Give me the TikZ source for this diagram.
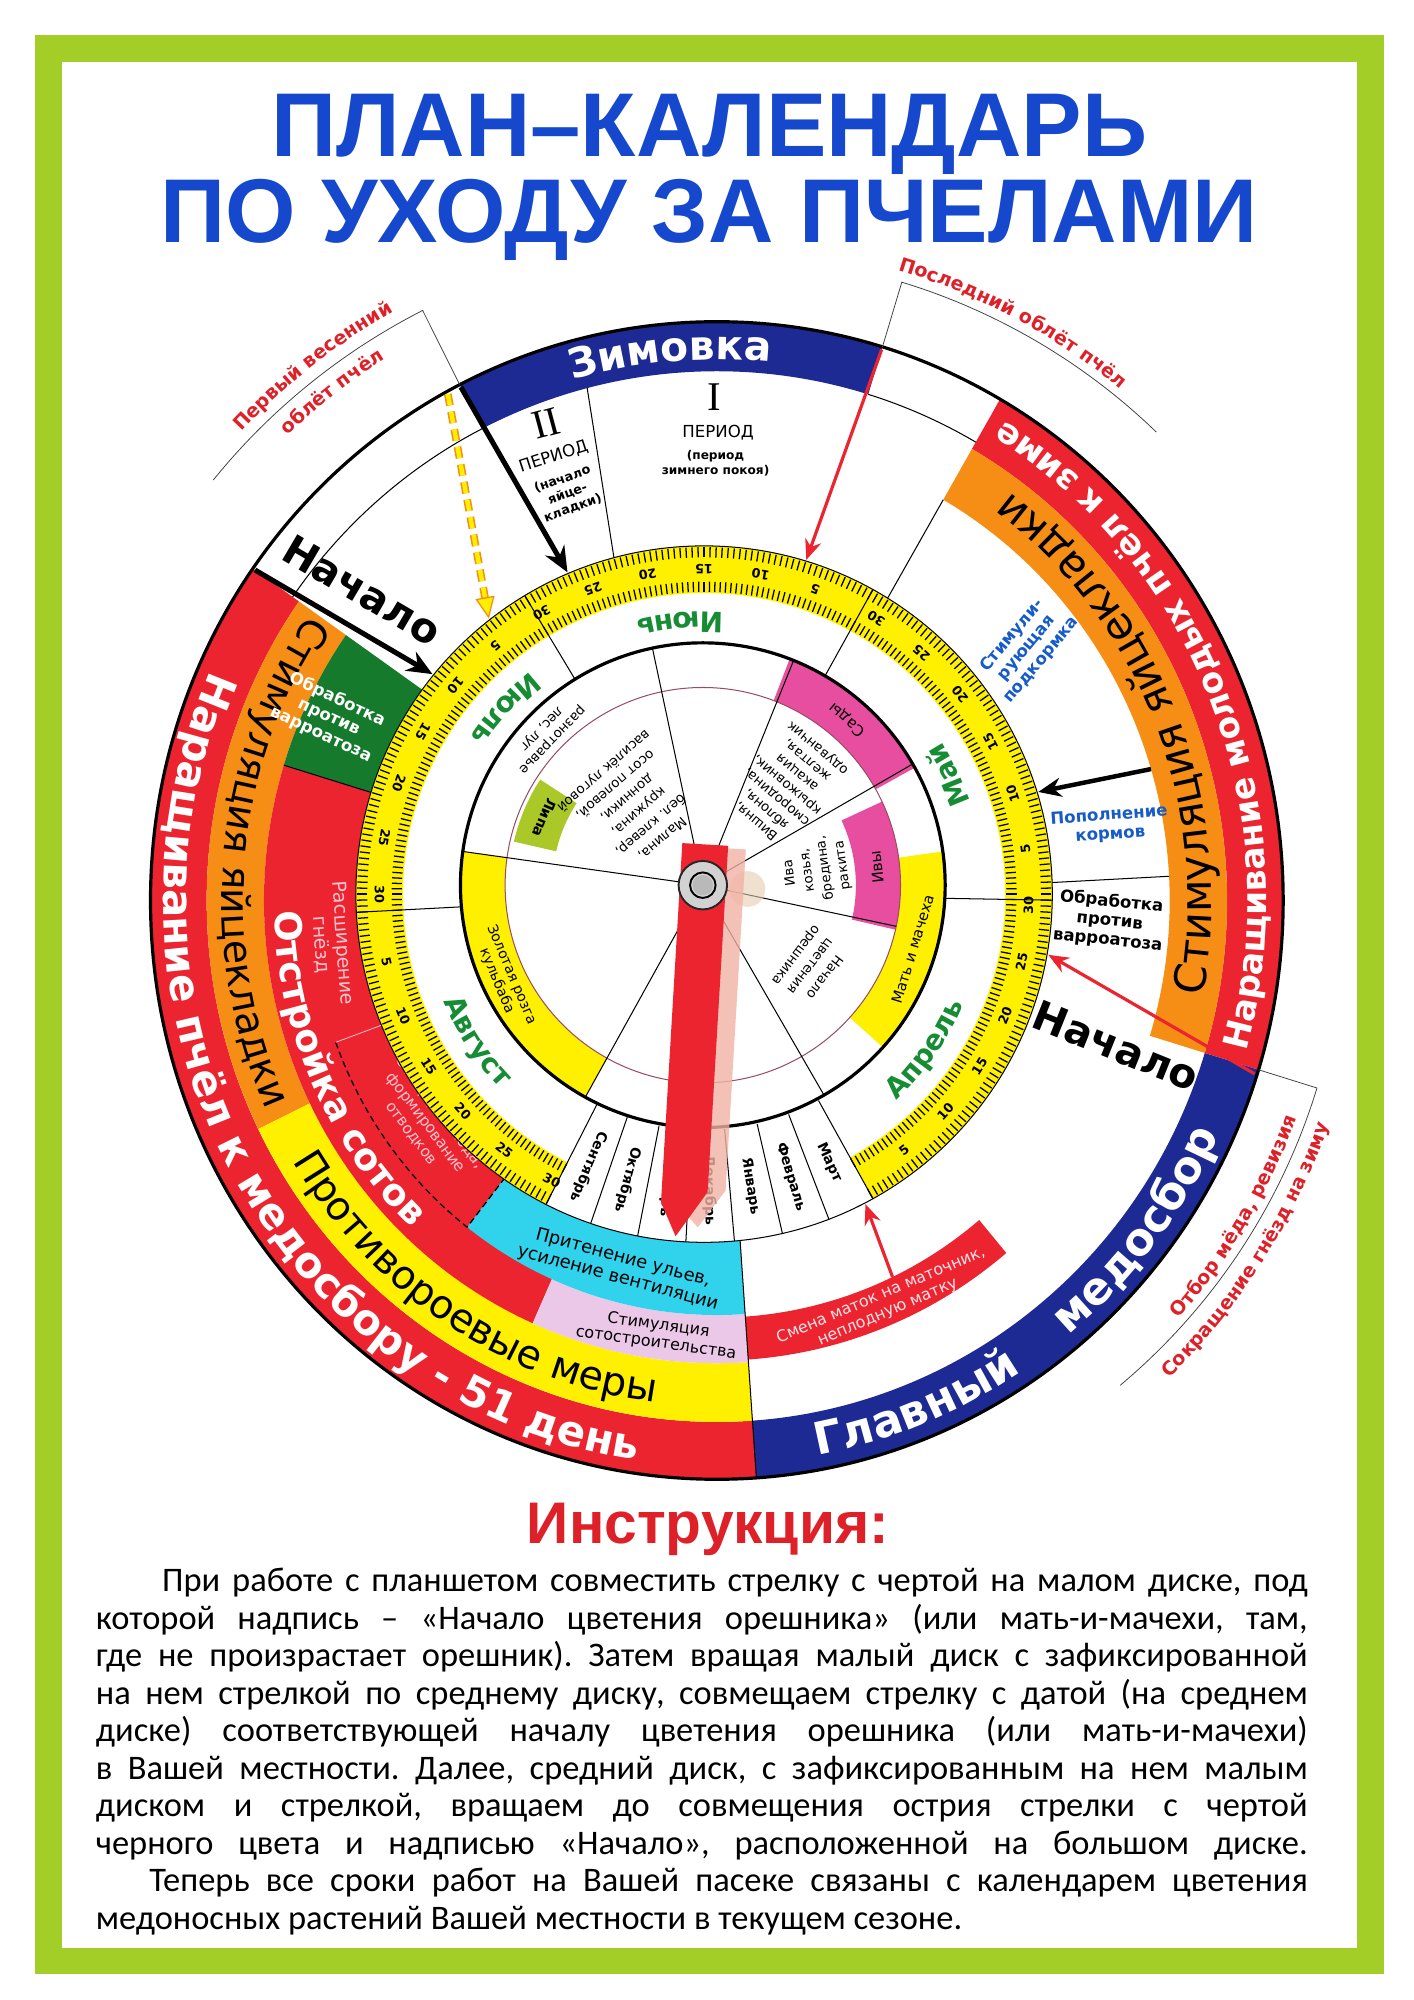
\documentclass[tikz,border=0pt]{standalone}
\usepackage{fontspec}
\setmainfont{DejaVu Sans}
\newfontfamily\headfont{Liberation Sans}
\newfontfamily\notefont{Carlito}
\newfontfamily\romanfont{Liberation Serif}
\usetikzlibrary{arrows.meta,calc,decorations.text}

\definecolor{framegreen}{RGB}{163,206,39}
\definecolor{titleblue}{RGB}{22,72,205}
\definecolor{discblue}{RGB}{30,42,148}
\definecolor{discred}{RGB}{236,36,48}
\definecolor{discorange}{RGB}{246,142,22}
\definecolor{discyellow}{RGB}{255,240,0}
\definecolor{boxgreen}{RGB}{22,122,44}
\definecolor{boxcyan}{RGB}{48,210,236}
\definecolor{boxpink}{RGB}{236,200,232}
\definecolor{plantpink}{RGB}{232,78,160}
\definecolor{plantlime}{RGB}{170,200,40}
\definecolor{monthgreen}{RGB}{22,140,52}
\definecolor{noteblue}{RGB}{22,92,200}
\definecolor{notered}{RGB}{222,32,40}
\definecolor{lightpink}{RGB}{255,196,206}

\newcommand{\fsz}[2]{\fontsize{#1}{#2}\selectfont}
\newcommand{\sector}[5]{\fill[#1] (#2:#5) arc[start angle=#2,end angle=#3,radius=#5] -- (#3:#4) arc[start angle=#3,end angle=#2,radius=#4] -- cycle;}
\newcommand{\arctext}[7]{\path[#1,decorate,decoration={text along path,text align=center,text color=#5,text={|#6|#7}}] (#3:#2) arc[start angle=#3,end angle=#4,radius=#2];}
\frenchspacing

\begin{document}
\begin{tikzpicture}[>=Stealth, x=1pt, y=1pt,
    big/.style={shift={(562,862)}, yscale=1.022},
    mid/.style={shift={(552,867)}},
    small/.style={shift={(551,874)}},
    sep/.style={line width=0.8pt},
    leader/.style={line width=0.6pt, black!75},
    instr/.style={anchor=base west, inner sep=0pt, font=\notefont\fsz{27}{27}},
    daynum/.style={inner sep=0pt, font=\bfseries\fsz{10}{10}},
    plant/.style={inner sep=0pt, align=center, font=\fsz{10.5}{14}},
    boxtext/.style={inner sep=0pt, align=center, font=\bfseries\fsz{13}{15}},
    bigarrow/.style={line width=4pt, -{Stealth[length=20pt,width=17pt]}},
    redarrow/.style={discred, line width=2.5pt, -{Stealth[length=16pt,width=13pt]}}]
    \useasboundingbox (0,0) rectangle (1108,1568);
    \fill[white] (0,0) rectangle (1108,1568);
    \draw[framegreen, line width=21pt] (38,30.5) rectangle (1074.5,1530);

    \node[anchor=base, inner sep=0pt, text=titleblue, font=\headfont\bfseries\fsz{71}{71}] (title1) at (556,1445) {ПЛАН–КАЛЕНДАРЬ};
    \node[anchor=base, inner sep=0pt, text=titleblue, font=\headfont\bfseries\fsz{71}{71}] (title2) at (556,1378) {ПО УХОДУ ЗА ПЧЕЛАМИ};

    \coordinate (cb) at (562,862);
    \coordinate (cm) at (552,867);
    \coordinate (cs) at (551,874);

    \fill[white, big] (0,0) circle (444);
    \sector{discblue,big}{73}{117}{406}{444}
    \sector{discred,big}{145}{274}{400}{444}
    \sector{discblue,big}{274}{343}{400}{444}
    \sector{discred,big}{-17}{60}{400}{444}
    \sector{discorange,big}{-17}{60}{355}{400}
    \sector{discorange,big}{145}{206}{355}{400}
    \sector{discyellow,big}{206}{274}{355}{400}
    \sector{boxgreen,big}{145}{163}{215}{355}
    \sector{discred,big}{163}{246}{215}{355}
    \sector{boxpink,big}{246}{274}{318}{355}
    \sector{boxcyan,big}{232}{274}{215}{318}
    \sector{discred,big}{-86}{-50}{320}{353}

    \draw[sep, big] (117:406) arc[start angle=117, end angle=145, radius=406];
    \draw[sep, big] (60:406) arc[start angle=60, end angle=73, radius=406];
    \draw[sep, big] (163:215) -- (163:355);
    \draw[sep, big] (274:215) -- (274:444);
    \draw[sep, big] (60:240) -- (60:355);
    \draw[sep, big] (3:240) -- (3:355);
    \draw[sep] ([big]104.5:406) -- ([mid]105:273);
    \draw[line width=1pt, dash pattern=on 5pt off 3pt, big] (200:318) arc[start angle=200, end angle=232, radius=318] -- (232:240);
    \draw[line width=0.6pt, lightpink, big] (200:240) -- (200:318);
    \draw[line width=2.5pt, big] (0,0) circle (444);

    \arctext{big}{415}{117}{73}{white}{\bfseries\fsz{32}{32}}{Зимовка}
    \arctext{big}{434}{140}{278}{white}{\bfseries\fsz{33}{33}}{Наращивание пчёл к медосбору - 51 день}
    \arctext{big}{431}{-20}{63}{white}{\bfseries\fsz{27}{27}}{Наращивание молодых пчёл к зиме}
    \arctext{big}{433}{-86}{-50}{white}{\bfseries\fsz{35}{35}}{Главный}
    \arctext{big}{433}{-56}{-19}{white}{\bfseries\fsz{35}{35}}{медосбор}
    \arctext{big}{388}{-16}{59}{black}{\fsz{34}{34}}{Стимуляция яйцекладки}
    \arctext{big}{388}{140}{210}{black}{\fsz{31}{31}}{Стимуляция яйцекладки}
    \arctext{big}{388}{202}{272}{black}{\fsz{31}{31}}{Противороевые меры}
    \arctext{big}{347}{166}{242}{white}{\bfseries\fsz{29}{29}}{Отстройка сотов}

    \node[inner sep=0pt, align=center, font=\fsz{14}{16}, rotate=-15] (shade) at ([big]255:292) {Притенение ульев,\\усиление вентиляции};
    \node[inner sep=0pt, align=center, font=\fsz{12.5}{14}, rotate=-8] (combs) at ([big]262:336) {Стимуляция\\сотостроительства};
    \node[inner sep=0pt, align=center, text=lightpink!50!white, font=\fsz{12.5}{14}, rotate=23] (queens) at ([big]-67:336) {Смена маток на маточник,\\неплодную матку};
    \node[boxtext, text=white, rotate=-25] (varroaL) at (258,1006) {Обработка\\против\\варроатоза};
    \node[inner sep=0pt, align=center, text=lightpink, font=\fsz{15}{17}, rotate=-86] (nests) at (260,828) {Расширение\\гнёзд};
    \node[inner sep=0pt, align=center, text=lightpink, font=\fsz{12}{14}, rotate=-53] (brood) at (334,688) {Отбор расплода,\\формирование\\отводков};
    \node[boxtext, text=noteblue, rotate=50] (feedA) at (805,1060) {Стимули-\\рующая\\подкормка};
    \node[boxtext, text=noteblue, rotate=4] (feedB) at (870,921) {Пополнение\\кормов};
    \node[boxtext, rotate=-6] (varroaR) at (870,846) {Обработка\\против\\варроатоза};

    \node[inner sep=0pt, font=\romanfont\fsz{32}{32}, rotate=15] (per2num) at (428,1236) {II};
    \node[inner sep=0pt, font=\fsz{13}{13}, rotate=18] (per2word) at (434,1210) {ПЕРИОД};
    \node[inner sep=0pt, align=center, font=\bfseries\fsz{10}{12}, rotate=20] (per2note) at (445,1181) {(начало\\яйце-\\кладки)};
    \node[inner sep=0pt, font=\romanfont\fsz{32}{32}] (per1num) at (560,1257) {I};
    \node[inner sep=0pt, font=\fsz{13}{13}] (per1word) at (563,1229) {ПЕРИОД};
    \node[inner sep=0pt, align=center, font=\bfseries\fsz{9.5}{12}] (per1note) at (561,1205) {(период\\зимнего покоя)};

    \draw[leader] ([big]117:444) -- ([big]117:508) arc[start angle=117, end angle=141, radius=508];
    \arctext{big}{518}{160}{95}{notered}{\bfseries\fsz{15}{15}}{Первый весенний}
    \arctext{big}{490}{160}{95}{notered}{\bfseries\fsz{15}{15}}{облёт пчёл}
    \draw[leader] ([big]73:444) -- ([big]73:496) arc[start angle=73, end angle=46, radius=496];
    \arctext{big}{504}{95}{30}{notered}{\bfseries\fsz{15}{15}}{Последний облёт пчёл}
    \draw[leader] ([big]-17:444) -- ([big]-17:492) arc[start angle=-17, end angle=-50, radius=492];
    \arctext{big}{484}{-65}{3}{notered}{\bfseries\fsz{15}{15}}{Отбор мёда, ревизия}
    \arctext{big}{510}{-66}{0}{notered}{\bfseries\fsz{15}{15}}{Сокращение гнёзд на зиму}

    \fill[white, mid] (0,0) circle (273);
    \sector{discyellow,mid}{-61}{243}{236}{273}
    \foreach \a in {-61,...,243} \draw[line width=1pt, mid] (\a:264) -- (\a:272) (\a:237) -- (\a:245);
    \foreach \s [count=\i] in {-61,-1,61,121,183} {
        \foreach \d [count=\j] in {5,10,...,30} {
            \node[daynum, rotate=\s+2*\d-1+90] (day\i\j) at ([mid]\s+2*\d-1:254.5) {\d};
        }
    }
    \foreach \a in {-1,61,121,183} \draw[sep, mid] (\a:185) -- (\a:273);
    \foreach \a in {243,251,...,299} \draw[sep, mid] (\a:185) -- (\a:273);
    \foreach \m [count=\k from 0] in {Сентябрь,Октябрь,Ноябрь,Декабрь,Январь,Февраль,Март}
        \node[inner sep=0pt, font=\bfseries\fsz{11}{11}, rotate=247+8*\k] (mon\k) at ([mid]247+8*\k:232) {\m};
    \draw[sep, mid] (0,0) circle (273);
    \arctext{mid}{221}{55}{135}{monthgreen}{\bfseries\fsz{22}{22}}{Июнь}
    \arctext{mid}{221}{-14}{66}{monthgreen}{\bfseries\fsz{22}{22}}{Май}
    \arctext{mid}{221}{-75}{5}{monthgreen}{\bfseries\fsz{22}{22}}{Апрель}
    \arctext{mid}{221}{97}{177}{monthgreen}{\bfseries\fsz{22}{22}}{Июль}
    \arctext{mid}{221}{173}{253}{monthgreen}{\bfseries\fsz{22}{22}}{Август}

    \draw[bigarrow] ([big]117:442) -- ([mid]113:274);
    \draw[bigarrow] ([big]145:442) -- node[sloped, above=15pt, inner sep=0pt, font=\bfseries\fsz{32}{32}] (startL) {Начало} ([mid]141:274);
    \draw[line width=3.5pt, -{Stealth[length=18pt,width=15pt]}] ([big]16.5:355) -- ([mid]17:274);
    \draw[redarrow] ([big]73:442) -- ([mid]73:274);
    \draw[redarrow] ([big]-17.5:442) -- ([mid]-10:274);
    \node[inner sep=0pt, font=\bfseries\fsz{32}{32}, rotate=-22] (startR) at (875,748) {Начало};
    \draw[redarrow] ([big]-64.5:320) -- ([mid]-62.5:274);
    \coordinate (dashA) at ([big]118.5:442);
    \coordinate (dashB) at ([mid]128:274);
    \coordinate (dashC) at ($(dashB)!17pt!(dashA)$);
    \draw[discorange, line width=6pt, dash pattern=on 9pt off 5pt] (dashA) -- (dashC);
    \draw[discyellow, line width=3.5pt, dash pattern=on 9pt off 5pt] (dashA) -- (dashC);
    \draw[discorange, line width=1pt, -{Triangle[length=17pt,width=15pt,fill=discyellow]}] (dashC) -- (dashB);

    \fill[white, small] (0,0) circle (190);
    \sector{plantpink,small}{29}{69}{155}{190}
    \sector{discyellow,small}{-42}{8}{155}{190}
    \sector{discyellow,small}{172}{241}{155}{190}
    \sector{plantpink,small}{-13}{25}{120}{155}
    \sector{plantlime,small}{147}{167}{118}{152}
    \draw[line width=0.8pt, purple!40!gray, small] (0,0) circle (155);
    \foreach \a in {102,68,30,-60,241,172} \draw[sep, small] (0,0) -- (\a:190);
    \draw[sep, small] (0,0) -- (-12:155);
    \draw[line width=2.5pt, small] (0,0) circle (190);
    \node[plant, rotate=221] (raspb) at ([small]131:84) {Малина,\\бел. клевер,\\кружина,\\донники,\\осот полевой,\\василёк луговой};
    \node[plant, font=\fsz{10.5}{12}, rotate=226] (meadow) at ([small]136:171) {разнотравье\\лес, луг};
    \node[plant, font=\bfseries\fsz{11}{11}, rotate=247] (linden) at ([small]157:135) {Липа};
    \node[plant, font=\fsz{10.5}{12.5}, rotate=140] (cherry) at ([small]50:103) {Вишня,\\яблоня,\\смородина,\\крыжовник,\\акация\\желтая,\\одуванчик};
    \node[plant, font=\fsz{12}{12}, rotate=139] (gardens) at ([small]49:172) {Сады};
    \node[plant, rotate=98] (willow) at ([small]8:90) {Ива\\козья,\\бредина,\\ракита};
    \node[plant, font=\fsz{12}{12}, rotate=96] (willows) at ([small]6:137) {Ивы};
    \node[plant, rotate=-127] (hazel) at ([small]-37:105) {Начало\\цветения\\орешника};
    \node[plant, font=\fsz{11.5}{11.5}, rotate=73] (coltsfoot) at ([small]-17:172) {Мать и мачеха};
    \node[plant, font=\fsz{11}{12.5}, rotate=293] (goldrod) at ([small]205:172) {Золотая розга\\кульбаба};

    \fill[brown!40, opacity=0.6] (586,871) circle (14);
    \begin{scope}[small, rotate=-3.4]
        \fill[brown!50!red!40, opacity=0.8] (0,30) -- (32,30) -- (32,-238) -- (12,-268) -- (0,-256) -- cycle;
        \fill[discred] (-18,32) -- (18,32) -- (18,-240) -- (-5,-276) -- (-18,-250) -- cycle;
    \end{scope}
    \fill[gray!35] (cs) circle (19);
    \draw[gray!30!black, line width=1.5pt] (cs) circle (19);
    \draw[line width=1.5pt] (cs) circle (10);
    \fill[gray!55] (cs) circle (8);

    \node[anchor=base, inner sep=0pt, text=notered, font=\headfont\bfseries\fsz{46}{46}] (howto) at (555,358) {Инструкция:};
    \node[instr] (l1) at (127,320) {\makebox[898pt][s]{При работе с планшетом совместить стрелку с чертой на малом диске, под}};
    \node[instr] (l2) at (75,290.6) {\makebox[950pt][s]{которой надпись – «Начало цветения орешника» (или мать-и-мачехи, там,}};
    \node[instr] (l3) at (75,261.2) {\makebox[950pt][s]{где не произрастает орешник). Затем вращая малый диск с зафиксированной}};
    \node[instr] (l4) at (75,231.8) {\makebox[950pt][s]{на нем стрелкой по среднему диску, совмещаем стрелку с датой (на среднем}};
    \node[instr] (l5) at (75,202.4) {\makebox[950pt][s]{диске) соответствующей началу цветения орешника (или мать-и-мачехи)}};
    \node[instr] (l6) at (75,173) {\makebox[950pt][s]{в Вашей местности. Далее, средний диск, с зафиксированным на нем малым}};
    \node[instr] (l7) at (75,143.6) {\makebox[950pt][s]{диском и стрелкой, вращаем до совмещения острия стрелки с чертой}};
    \node[instr] (l8) at (75,114.2) {\makebox[950pt][s]{черного цвета и надписью «Начало», расположенной на большом диске.}};
    \node[instr] (l9) at (117,84.8) {\makebox[908pt][s]{Теперь все сроки работ на Вашей пасеке связаны с календарем цветения}};
    \node[instr] (l10) at (75,55.4) {медоносных растений Вашей местности в текущем сезоне.};
\end{tikzpicture}
\end{document}
